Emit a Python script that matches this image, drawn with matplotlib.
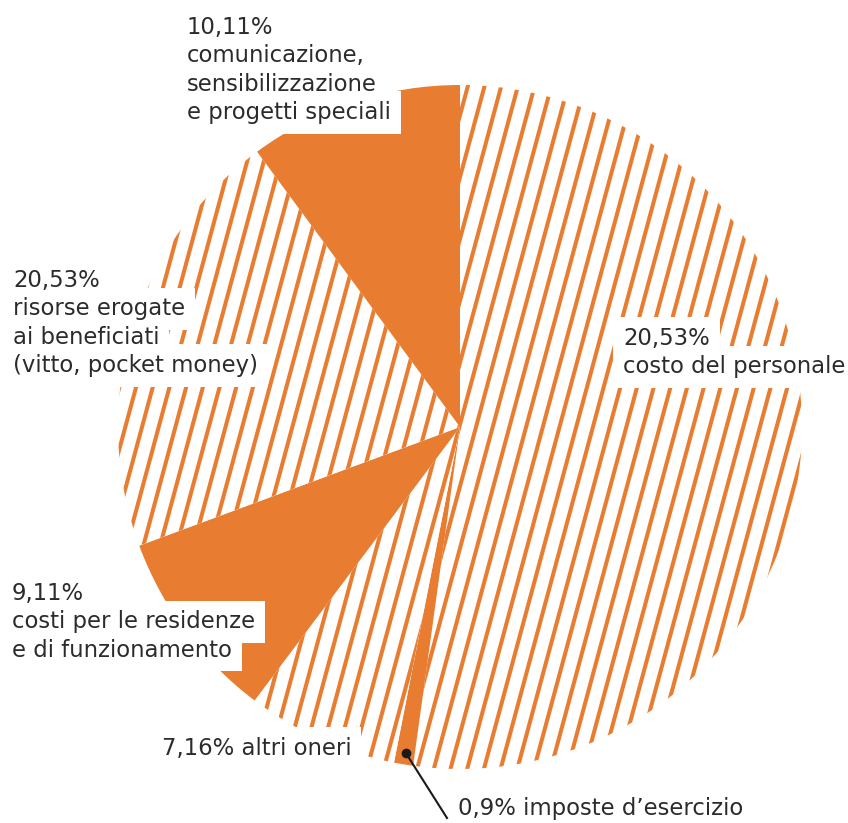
import matplotlib.pyplot as plt
import numpy as np

# slices in clockwise order starting at 12 o'clock
names = ['costo del personale', 'imposte d\u2019esercizio', 'altri oneri',
         'costi per le residenze', 'risorse erogate', 'comunicazione']
values = [52.19, 0.9, 7.16, 9.11, 20.53, 10.11]
solid = [False, True, False, True, False, True]

# label texts as printed on the chart (one list per line block)
label_lines = [
    ['20,53%', 'costo del personale'],
    ['7,16% altri oneri'],
    ['9,11%', 'costi per le residenze', 'e di funzionamento'],
    ['20,53%', 'risorse erogate', 'ai beneficiati', '(vitto, pocket money)'],
    ['10,11%', 'comunicazione,', 'sensibilizzazione', 'e progetti speciali'],
]
imposte_label = '0,9% imposte d\u2019esercizio'

# where each block starts (x, first baseline) in pixels from top-left
label_pos = [(623, 345), (162, 755), (12, 600), (13, 287), (187, 34)]

ORANGE = '#E87D31'
TEXT = '#2b2b2b'
line_gap = 28.3
fs = 16.4

fig = plt.figure(figsize=(8.48, 8.23), dpi=100)
ax = fig.add_axes([0, 0, 1, 1])

cx, cy, r = 460, 427, 342
wedges, _ = ax.pie(values, colors=[ORANGE if s else 'white' for s in solid],
                   startangle=-90, counterclock=True, center=(cx, cy), radius=r,
                   wedgeprops=dict(linewidth=0))
ax.set_xlim(0, 848)
ax.set_ylim(823, 0)
ax.set_aspect('equal')
ax.axis('off')

# diagonal stripes on the light slices
slope = 0.27
gap = 16.7
ys = np.array([0.0, 823.0])
for w, s in zip(wedges, solid):
    if s:
        continue
    for x0 in np.arange(553.3 - 34 * gap, 553.3 + 24 * gap, gap):
        ln, = ax.plot(x0 - slope * (ys - 450), ys, color=ORANGE, lw=2.9,
                      solid_capstyle='butt', zorder=2)
        ln.set_clip_path(w)

# labels: white backing per line first, then the text above all backings
for lines, (x, y0) in zip(label_lines, label_pos):
    for i, t in enumerate(lines):
        y = y0 + i * line_gap
        ax.text(x, y, t, fontsize=fs, color='none', va='baseline', ha='left',
                zorder=3, bbox=dict(facecolor='white', edgecolor='none', pad=7))
        ax.text(x, y, t, fontsize=fs, color=TEXT, va='baseline', ha='left',
                zorder=4)

# leader for the thin slice
w = wedges[1]
mid = np.deg2rad((w.theta1 + w.theta2) / 2)
px = cx + 0.965 * r * np.cos(mid)
py = cy + 0.965 * r * np.sin(mid)
ax.plot([px, 447], [py, 818], color='#1a1a1a', lw=1.5, zorder=5)
ax.plot(px, py, 'o', color='#1a1a1a', ms=6, zorder=5)
ax.text(458, 815, imposte_label, fontsize=fs, color=TEXT,
        va='baseline', ha='left', zorder=4)

fig.savefig('out.png', dpi=100)
